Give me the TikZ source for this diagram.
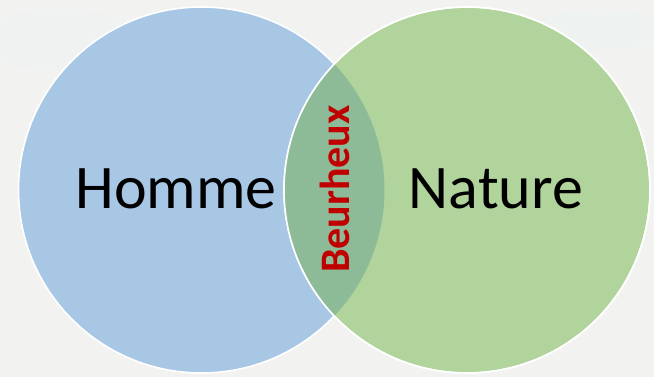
\documentclass[tikz,border=0pt]{standalone}
\usepackage{fontspec}
\setmainfont{Carlito}
\definecolor{bgc}{RGB}{242,243,240}
\definecolor{bluec}{RGB}{167,199,229}
\definecolor{greenc}{RGB}{177,211,156}
\definecolor{lensc}{RGB}{141,187,151}
\definecolor{redc}{RGB}{192,0,0}
\begin{document}
\begin{tikzpicture}[x=1pt,y=-1pt,
  ring/.style={draw=white,line width=1.6pt},
  bigtxt/.style={font=\fontsize{62}{62}\selectfont,text=black,inner sep=0pt},
  lenstxt/.style={font=\bfseries\fontsize{42}{42}\selectfont,text=redc,inner sep=0pt,rotate=90}]
\useasboundingbox (0,0) rectangle (654,377);
\fill[bgc] (0,0) rectangle (654,377);
\fill[white!60!cyan!8!bgc,opacity=0.6] (60,40) ellipse (90 and 30);
\fill[white!60!cyan!10!bgc,opacity=0.5] (600,30) ellipse (70 and 20);
% circles
\coordinate (cl) at (201.5,190);
\coordinate (cr) at (467,190);
\fill[bluec,ring] (cl) circle (183);
\fill[greenc,ring] (cr) circle (183);
\begin{scope}
  \clip (cl) circle (183);
  \fill[lensc] (cr) circle (183);
\end{scope}
\draw[ring] (cr) circle (183);
\node[bigtxt,anchor=base] (homme) at (176,208) {Homme};
\node[bigtxt,anchor=base] (nature) at (496,208) {Nature};
\node[lenstxt] (beur) at (335,189) {Beurheux};
\end{tikzpicture}
\end{document}
